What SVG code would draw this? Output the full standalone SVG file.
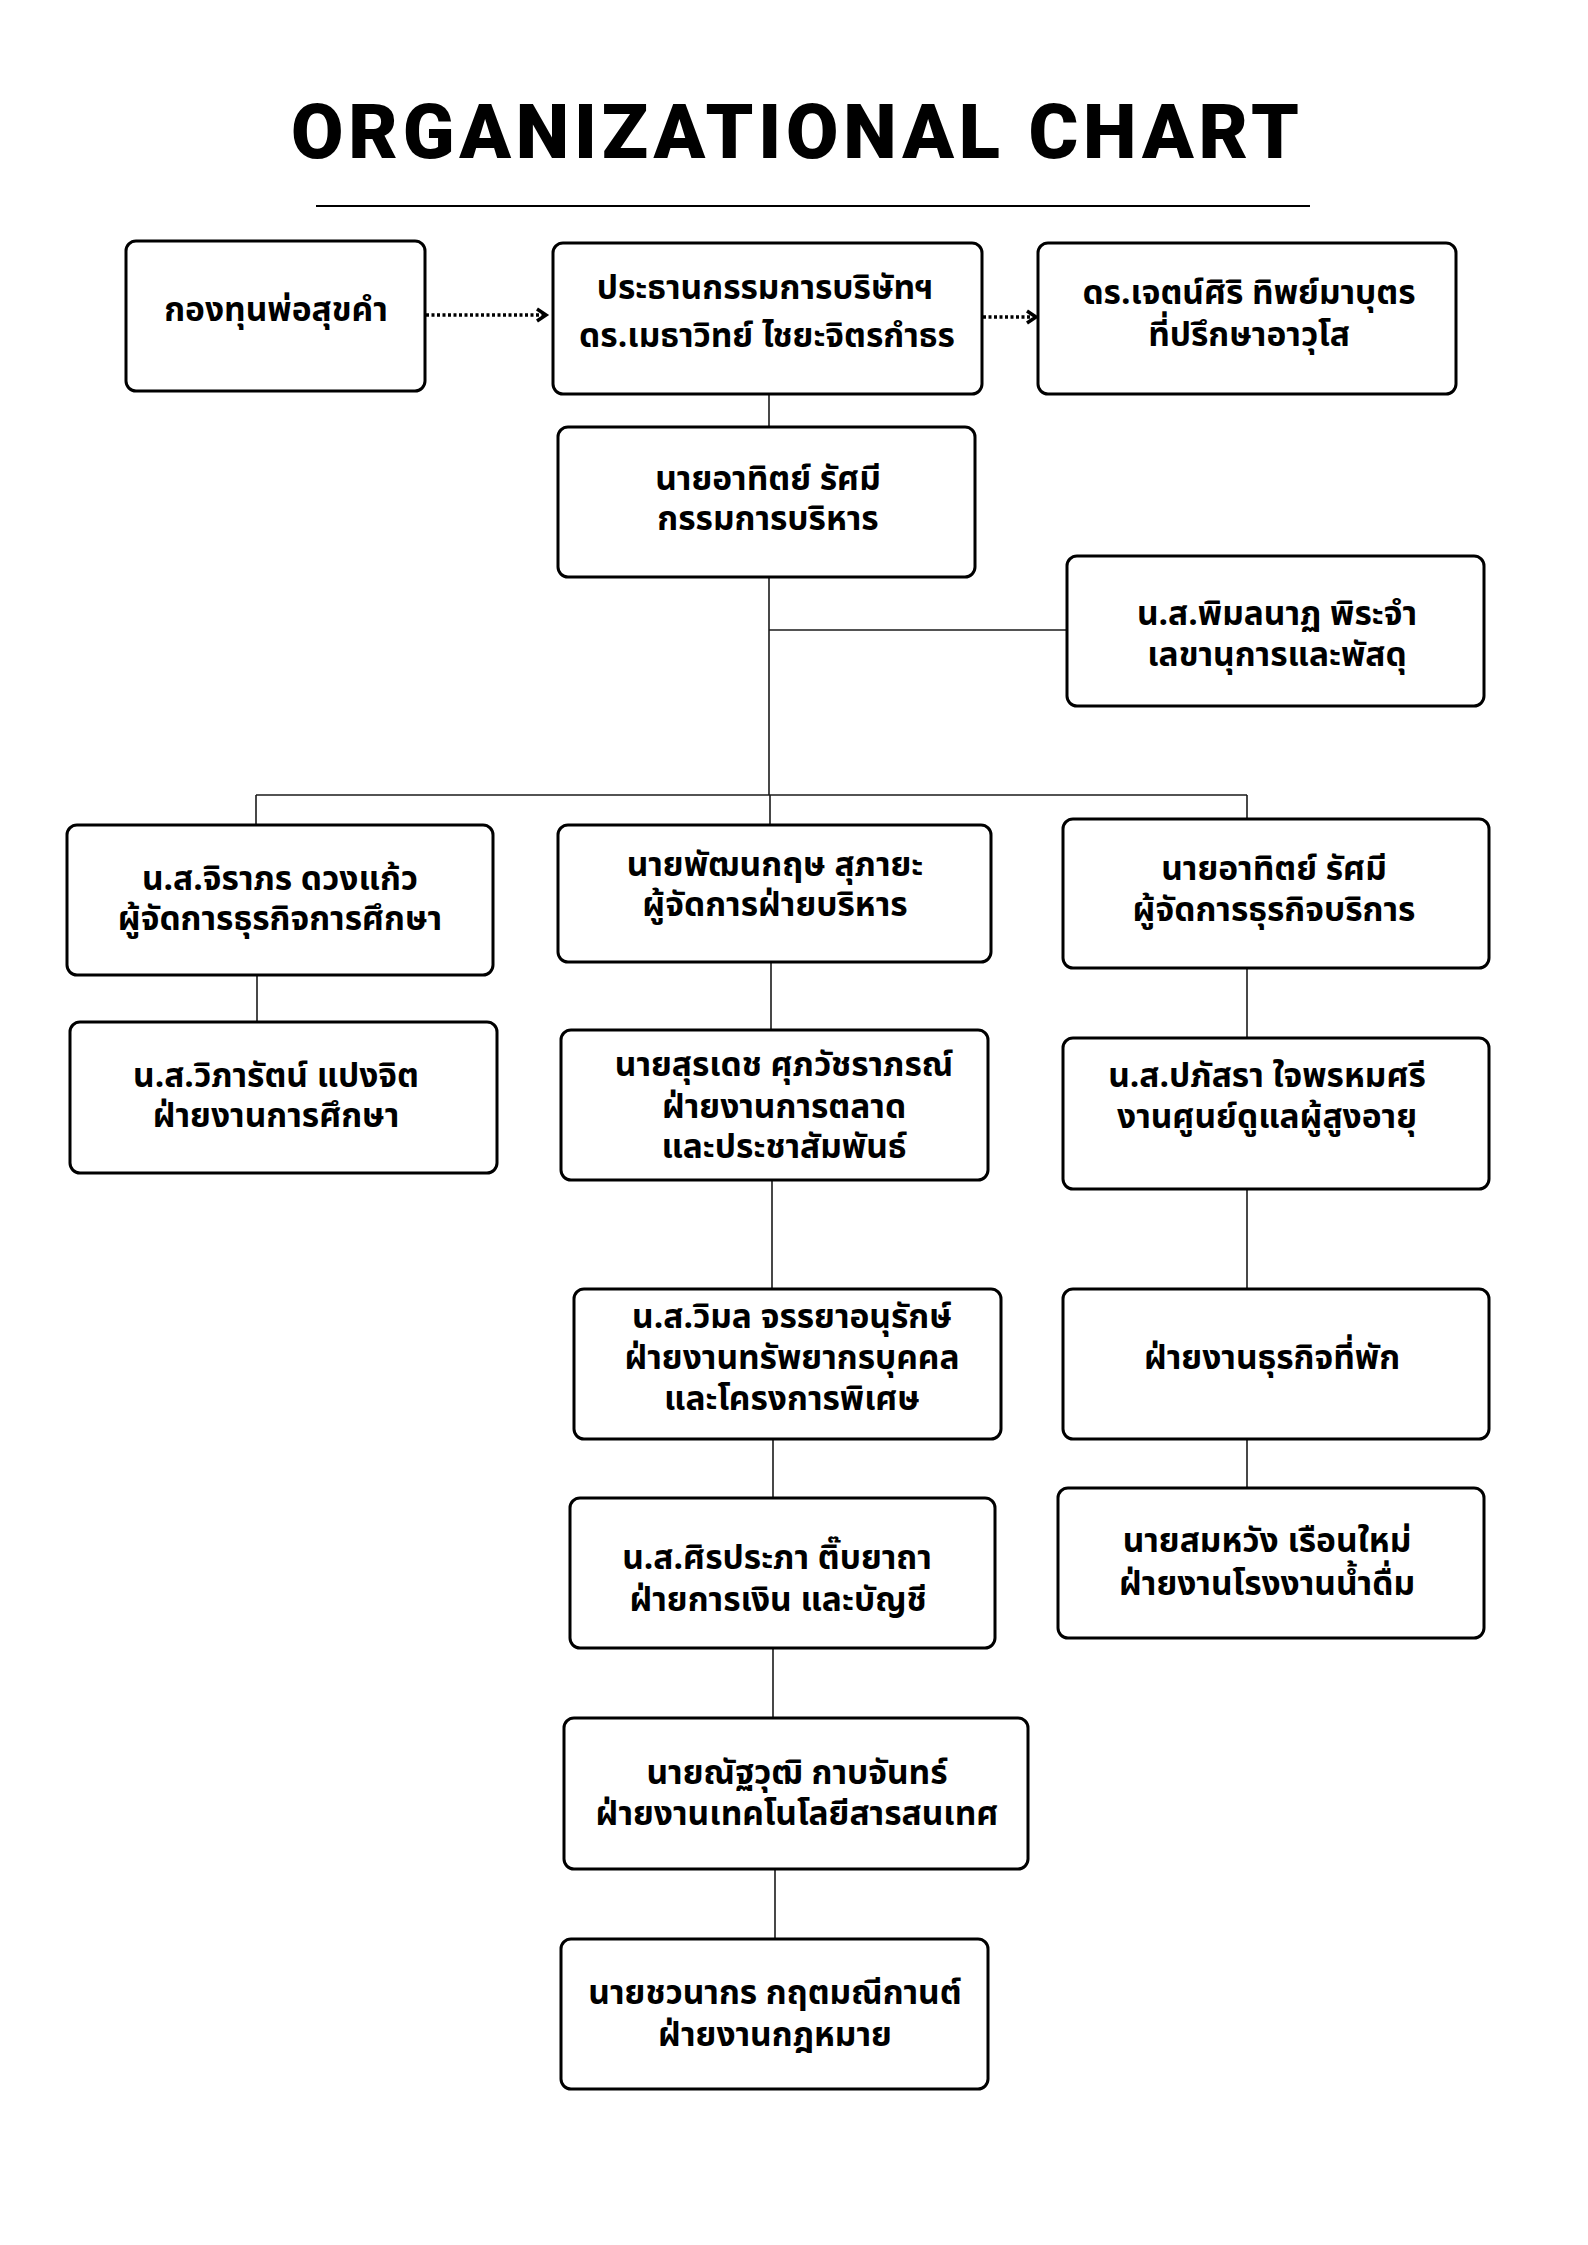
<svg xmlns="http://www.w3.org/2000/svg" width="1588" height="2245" viewBox="0 0 1588 2245">
<defs>
<style>
.box{fill:#fff;stroke:#000;stroke-width:3}
.t{font-family:'Noto Sans Thai','Noto Sans Thai UI','Noto Sans','DejaVu Sans',sans-serif;font-weight:700;font-size:33.5px;fill:#000;text-anchor:middle}
.ln{stroke:#1a1a1a;stroke-width:1.6;fill:none}
.dot{stroke:#000;stroke-width:3.5;stroke-dasharray:3 2.5;fill:none}
.chev{stroke:#000;stroke-width:3.5;fill:none;stroke-linejoin:miter}
</style>
</defs>
<rect width="1588" height="2245" fill="#fff"/>
<text x="795" y="158" font-family="Roboto,'DejaVu Sans',sans-serif" font-weight="900" font-size="76" textLength="1008" lengthAdjust="spacing" text-anchor="middle" fill="#000">ORGANIZATIONAL CHART</text>
<line x1="316" y1="206" x2="1310" y2="206" stroke="#000" stroke-width="2"/>

<g id="connectors">
<line class="dot" x1="426" y1="315" x2="544" y2="315"/>
<polyline class="chev" points="537,309 546,315 537,321"/>
<line class="dot" x1="983" y1="317" x2="1032" y2="317"/>
<polyline class="chev" points="1027,311 1036,317 1027,323"/>
<line class="ln" x1="769" y1="394" x2="769" y2="427"/>
<line class="ln" x1="769" y1="577" x2="769" y2="795"/>
<line class="ln" x1="769" y1="630" x2="1067" y2="630"/>
<line class="ln" x1="256" y1="795" x2="1247" y2="795"/>
<line class="ln" x1="256" y1="795" x2="256" y2="825"/>
<line class="ln" x1="770" y1="795" x2="770" y2="825"/>
<line class="ln" x1="1247" y1="795" x2="1247" y2="819"/>
<line class="ln" x1="257" y1="975" x2="257" y2="1022"/>
<line class="ln" x1="771" y1="962" x2="771" y2="1030"/>
<line class="ln" x1="772" y1="1180" x2="772" y2="1289"/>
<line class="ln" x1="773" y1="1439" x2="773" y2="1498"/>
<line class="ln" x1="773" y1="1648" x2="773" y2="1718"/>
<line class="ln" x1="775" y1="1869" x2="775" y2="1939"/>
<line class="ln" x1="1247" y1="968" x2="1247" y2="1038"/>
<line class="ln" x1="1247" y1="1189" x2="1247" y2="1289"/>
<line class="ln" x1="1247" y1="1439" x2="1247" y2="1488"/>
</g>

<g id="fund"><rect class="box" x="126" y="241" width="299" height="150" rx="10"/>
<text class="t" x="276" y="321">กองทุนพ่อสุขคำ</text></g>

<g id="chairman"><rect class="box" x="553" y="243" width="429" height="151" rx="10"/>
<text class="t" x="765" y="299">ประธานกรรมการบริษัทฯ</text>
<text class="t" x="767" y="347">ดร.เมธาวิทย์ ไชยะจิตรกำธร</text></g>

<g id="advisor"><rect class="box" x="1038" y="243" width="418" height="151" rx="10"/>
<text class="t" x="1249" y="304">ดร.เจตน์ศิริ ทิพย์มาบุตร</text>
<text class="t" x="1249" y="346">ที่ปรึกษาอาวุโส</text></g>

<g id="exec"><rect class="box" x="558" y="427" width="417" height="150" rx="10"/>
<text class="t" x="768" y="490">นายอาทิตย์ รัศมี</text>
<text class="t" x="768" y="530">กรรมการบริหาร</text></g>

<g id="secretary"><rect class="box" x="1067" y="556" width="417" height="150" rx="10"/>
<text class="t" x="1277" y="625">น.ส.พิมลนาฏ พิระจำ</text>
<text class="t" x="1277" y="666">เลขานุการและพัสดุ</text></g>

<g id="edu-mgr"><rect class="box" x="67" y="825" width="426" height="150" rx="10"/>
<text class="t" x="280" y="890">น.ส.จิราภร ดวงแก้ว</text>
<text class="t" x="280" y="930">ผู้จัดการธุรกิจการศึกษา</text></g>

<g id="admin-mgr"><rect class="box" x="558" y="825" width="433" height="137" rx="10"/>
<text class="t" x="775" y="876">นายพัฒนกฤษ สุภายะ</text>
<text class="t" x="775" y="916">ผู้จัดการฝ่ายบริหาร</text></g>

<g id="service-mgr"><rect class="box" x="1063" y="819" width="426" height="149" rx="10"/>
<text class="t" x="1274" y="880">นายอาทิตย์ รัศมี</text>
<text class="t" x="1274" y="921">ผู้จัดการธุรกิจบริการ</text></g>

<g id="edu"><rect class="box" x="70" y="1022" width="427" height="151" rx="10"/>
<text class="t" x="276" y="1087">น.ส.วิภารัตน์ แปงจิต</text>
<text class="t" x="276" y="1127">ฝ่ายงานการศึกษา</text></g>

<g id="marketing"><rect class="box" x="561" y="1030" width="427" height="150" rx="10"/>
<text class="t" x="784" y="1076">นายสุรเดช ศุภวัชราภรณ์</text>
<text class="t" x="784" y="1118">ฝ่ายงานการตลาด</text>
<text class="t" x="784" y="1158">และประชาสัมพันธ์</text></g>

<g id="elderly"><rect class="box" x="1063" y="1038" width="426" height="151" rx="10"/>
<text class="t" x="1267" y="1087">น.ส.ปภัสรา ใจพรหมศรี</text>
<text class="t" x="1267" y="1128">งานศูนย์ดูแลผู้สูงอายุ</text></g>

<g id="hr"><rect class="box" x="574" y="1289" width="427" height="150" rx="10"/>
<text class="t" x="792" y="1328">น.ส.วิมล จรรยาอนุรักษ์</text>
<text class="t" x="792" y="1369">ฝ่ายงานทรัพยากรบุคคล</text>
<text class="t" x="792" y="1410">และโครงการพิเศษ</text></g>

<g id="lodging"><rect class="box" x="1063" y="1289" width="426" height="150" rx="10"/>
<text class="t" x="1272" y="1369">ฝ่ายงานธุรกิจที่พัก</text></g>

<g id="finance"><rect class="box" x="570" y="1498" width="425" height="150" rx="10"/>
<text class="t" x="777" y="1569">น.ส.ศิรประภา ติ๊บยาถา</text>
<text class="t" x="778" y="1611">ฝ่ายการเงิน และบัญชี</text></g>

<g id="water"><rect class="box" x="1058" y="1488" width="426" height="150" rx="10"/>
<text class="t" x="1267" y="1552">นายสมหวัง เรือนใหม่</text>
<text class="t" x="1267" y="1595">ฝ่ายงานโรงงานน้ำดื่ม</text></g>

<g id="it"><rect class="box" x="564" y="1718" width="464" height="151" rx="10"/>
<text class="t" x="797" y="1784">นายณัฐวุฒิ กาบจันทร์</text>
<text class="t" x="797" y="1825">ฝ่ายงานเทคโนโลยีสารสนเทศ</text></g>

<g id="legal"><rect class="box" x="561" y="1939" width="427" height="150" rx="10"/>
<text class="t" x="775" y="2004">นายชวนากร กฤตมณีกานต์</text>
<text class="t" x="775" y="2046">ฝ่ายงานกฎหมาย</text></g>
</svg>
